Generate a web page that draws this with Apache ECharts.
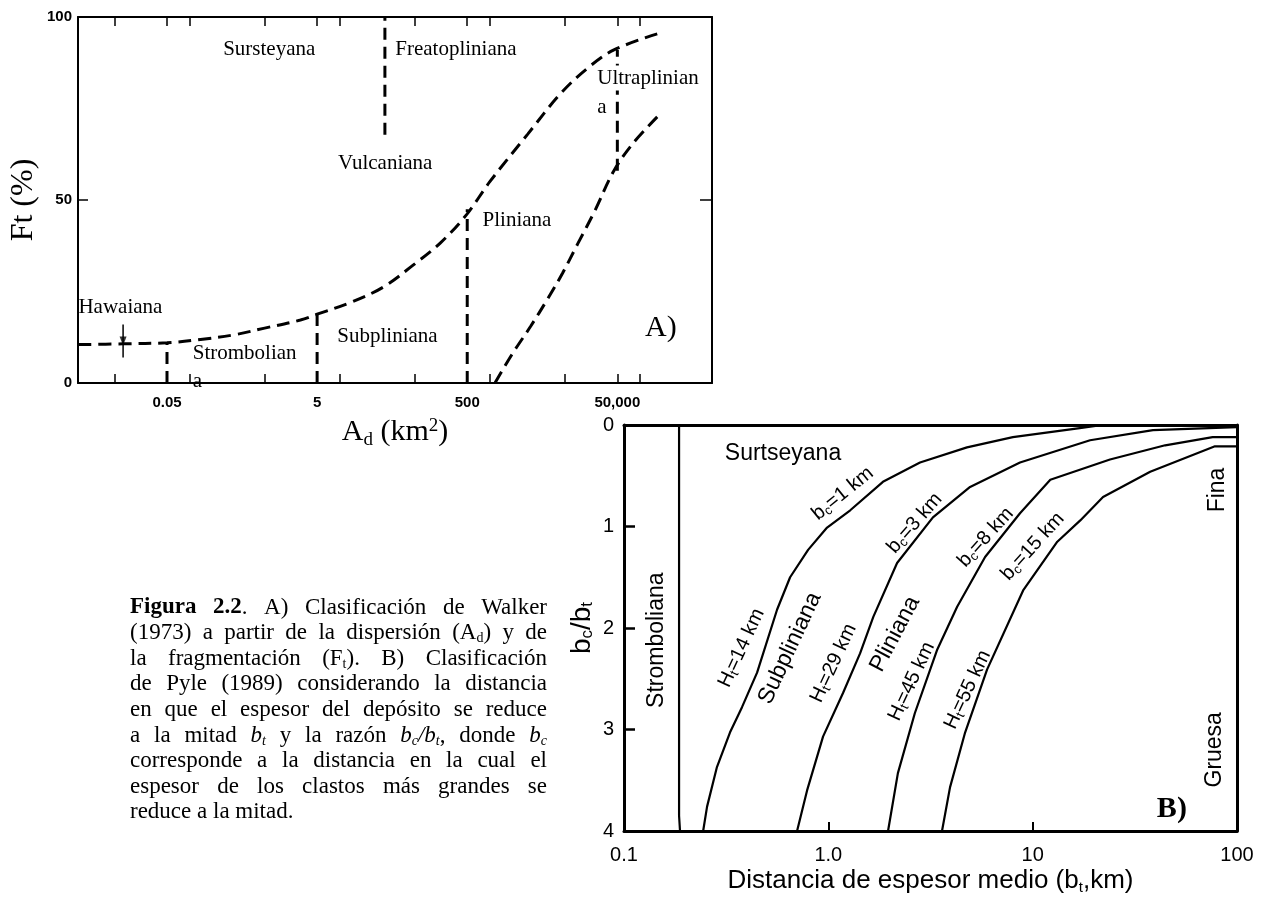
<!DOCTYPE html>
<html>
<head>
<meta charset="utf-8">
<script src="https://cdn.jsdelivr.net/npm/echarts@6/dist/echarts.min.js"></script>
<style>
  html, body { margin: 0; padding: 0; background: #fff; }
  #chart { width: 1268px; height: 898px; }
</style>
</head>
<body>
<div id="chart"></div>
<script>
const SERIF = '"Liberation Serif", "Times New Roman", serif';
const SANS = '"Liberation Sans", Arial, Helvetica, sans-serif';
const NARROW = '"Liberation Sans Narrow", "Arial Narrow", "Liberation Sans", sans-serif';

// ---------- Panel A: Walker (1973), dispersal A_d (km²) vs fragmentation F_t (%) ----------
const walkerTickValues = [0.01, 0.05, 0.1, 1, 5, 10, 100, 500, 1000, 10000, 50000, 100000];
const walkerLabelValues = [0.05, 5, 500, 50000];
const walkerLabelTexts = ['0.05', '5', '500', '50,000'];
const walkerFtTicks = [0, 50, 100];
const walkerUpperCurve = [
  [0.0033, 10.5], [0.013, 10.7], [0.05, 11], [0.14, 11.9], [0.4, 13.2], [1, 15],
  [3, 17.2], [5, 18.8], [14, 22], [38, 26.2], [95, 32.2], [220, 38.3], [490, 46],
  [1000, 55], [3200, 68], [8700, 79], [20000, 86], [45000, 91], [170000, 95.4]
];
const walkerLowerCurve = [
  [1170, 0], [2000, 8], [3500, 15.5], [5900, 23], [9300, 30], [14800, 38],
  [25000, 47], [45000, 58], [81000, 65.5], [170000, 72.7]
];
const walkerDividerX = [0.05, 5, 500, 50000, 40];
const walkerDividerFrom = [0, 0, 0, 58, 67.8];
const walkerDividerTo = [11, 18.8, 47.5, 91, 100];
const hawaiianMarkX = [0.013, 0.013];
const hawaiianMarkFt = [16, 7];
const walkerRegionNames = ['Sursteyana', 'Freatopliniana', 'Ultraplinian', 'a', 'Vulcaniana',
  'Pliniana', 'Hawaiana', 'Strombolian', 'a', 'Subpliniana'];
const walkerRegionAt = [[0.28, 91], [55, 91], [27000, 83.3], [27000, 75.4], [9.5, 60.1],
  [800, 44.5], [0.0033, 20.5], [0.11, 8.2], [0.11, 0.3], [9.3, 12.6]];
const walkerPanelTag = 'A)';
const walkerPanelTagAt = [117000, 15];

// ---------- Panel B: Pyle (1989), half-thickness distance b_t vs b_c/b_t ----------
const pyleTickValues = [1, 10];
const pyleLabelValues = [0.1, 1, 10, 100];
const pyleLabelTexts = ['0.1', '1.0', '10', '100'];
const pyleStrombolianLimit = [[0.186, 0], [0.186, 3.85], [0.188, 4]];
const pyleCurveBc1 = [
  [0.244, 4], [0.255, 3.76], [0.285, 3.37], [0.33, 3.03], [0.378, 2.78], [0.448, 2.44],
  [0.561, 1.82], [0.65, 1.5], [0.796, 1.23], [0.986, 1.01], [1.28, 0.84], [1.85, 0.56],
  [2.81, 0.37], [4.77, 0.22], [8.0, 0.12], [17, 0.03], [22, 0]
];
const pyleCurveBc3 = [
  [0.703, 4], [0.787, 3.6], [0.942, 3.07], [1.18, 2.64], [1.43, 2.25], [1.66, 1.89],
  [2.17, 1.36], [3.25, 0.91], [4.94, 0.61], [8.67, 0.37], [19.1, 0.15], [38.8, 0.05], [100, 0.02]
];
const pyleCurveBc8 = [
  [1.96, 4], [2.19, 3.43], [2.65, 2.84], [3.4, 2.22], [4.27, 1.79], [5.85, 1.3],
  [8.67, 0.87], [12.2, 0.54], [23.9, 0.34], [44.5, 0.2], [76, 0.12], [100, 0.12]
];
const pyleCurveBc15 = [
  [3.6, 4], [3.94, 3.57], [4.67, 3.03], [5.98, 2.41], [8.98, 1.63], [13.2, 1.15],
  [17.1, 0.94], [22.1, 0.71], [37.6, 0.46], [78, 0.21], [100, 0.21]
];
const pyleTexts = [
  '{v|Surtseyana}', '{v|Stromboliana}', '{v|Subpliniana}', '{v|Pliniana}', '{v|Fina}', '{v|Gruesa}',
  '{c|b}{cs|c}{c|=1 km}', '{c|b}{cs|c}{c|=3 km}', '{c|b}{cs|c}{c|=8 km}', '{c|b}{cs|c}{c|=15 km}',
  '{c|H}{cs|t}{c|=14 km}', '{c|H}{cs|t}{c|=29 km}', '{c|H}{cs|t}{c|=45 km}', '{c|H}{cs|t}{c|=55 km}',
  '{tag|B)}'
];
const pyleTextAt = [
  [0.60, 0.28], [0.145, 2.12], [0.649, 2.2], [2.12, 2.06], [80, 0.64], [78, 3.2],
  [1.18, 0.68], [2.66, 0.97], [5.91, 1.11], [10.05, 1.2],
  [0.378, 2.2], [1.066, 2.35], [2.57, 2.53], [4.83, 2.61],
  [48, 3.79]
];
const pyleTextAngle = [0, 90, 65, 62, 90, 90, 39, 49, 48, 48, 65, 65, 65, 65, 0];

// ---------- Caption ----------
const captionLines = [
  '{b|Figura} {b|2.2}{r|.} {r|A)} {r|Clasificación} {r|de} {r|Walker}',
  '{r|(1973)} {r|a} {r|partir} {r|de} {r|la} {r|dispersión} {r|(A}{rs|d}{r|)} {r|y} {r|de}',
  '{r|la} {r|fragmentación} {r|(F}{rs|t}{r|).} {r|B)} {r|Clasificación}',
  '{r|de} {r|Pyle} {r|(1989)} {r|considerando} {r|la} {r|distancia}',
  '{r|en} {r|que} {r|el} {r|espesor} {r|del} {r|depósito} {r|se} {r|reduce}',
  '{r|a} {r|la} {r|mitad} {i|b}{is|t} {r|y} {r|la} {r|razón} {i|b}{is|c}{i|/b}{is|t}{r|,} {r|donde} {i|b}{is|c}',
  '{r|corresponde} {r|a} {r|la} {r|distancia} {r|en} {r|la} {r|cual} {r|el}',
  '{r|espesor} {r|de} {r|los} {r|clastos} {r|más} {r|grandes} {r|se}',
  '{r|reduce} {r|a} {r|la} {r|mitad.}'
];

// ---------- helpers ----------
function labelFor(values, texts) {
  return function (v) {
    for (let i = 0; i < values.length; i++) {
      if (Math.abs(Math.log10(v) - Math.log10(values[i])) < 1e-6) return texts[i];
    }
    return '';
  };
}

const CAP = { x: 130, width: 417, top: 596, lineStep: 25.6, size: 23, sub: 14, subPad: 10 };
const capStyles = {
  r: { fontSize: CAP.size },
  b: { fontSize: CAP.size, fontWeight: 'bold' },
  i: { fontSize: CAP.size, fontStyle: 'italic' },
  rs: { fontSize: CAP.sub, padding: [CAP.subPad, 0, 0, 0] },
  is: { fontSize: CAP.sub, fontStyle: 'italic', padding: [CAP.subPad, 0, 0, 0] }
};
const capRich = {};
Object.keys(capStyles).forEach(function (k) {
  capRich[k] = Object.assign({ fontFamily: SERIF, fill: '#000', verticalAlign: 'top' }, capStyles[k]);
});
const measureCtx = document.createElement('canvas').getContext('2d');
function measureWord(word) {
  let w = 0;
  word.replace(/\{(\w+)\|([^}]*)\}/g, function (m, key, txt) {
    const s = capStyles[key];
    measureCtx.font = (s.fontStyle || 'normal') + ' ' + (s.fontWeight || 'normal') + ' ' + s.fontSize + 'px ' + SERIF;
    w += measureCtx.measureText(txt).width;
    return m;
  });
  return w;
}
function captionGraphics() {
  const out = [];
  measureCtx.font = 'normal normal ' + CAP.size + 'px ' + SERIF;
  const space = measureCtx.measureText(' ').width;
  captionLines.forEach(function (line, li) {
    const words = line.split(' ');
    const widths = words.map(measureWord);
    const total = widths.reduce(function (a, b) { return a + b; }, 0);
    const last = li === captionLines.length - 1;
    const gap = last ? space : (CAP.width - total) / (words.length - 1);
    let x = CAP.x;
    words.forEach(function (w, wi) {
      out.push({
        type: 'text', x: x, y: CAP.top + li * CAP.lineStep, silent: true,
        style: { text: w, rich: capRich, fill: '#000', align: 'left', verticalAlign: 'top',
                 fontFamily: SERIF, fontSize: CAP.size }
      });
      x += widths[wi] + gap;
    });
  });
  return out;
}

// ---------- chart ----------
const chart = echarts.init(document.getElementById('chart'), null, { renderer: 'canvas' });
const A_MIN = 0.00326, A_MAX = 912000;
const black = '#000';
const frameA = { show: true, onZero: false, lineStyle: { color: black, width: 2 } };
const frameB = { show: true, onZero: false, lineStyle: { color: black, width: 3 } };
const noLabel = { show: false };
const noSplit = { show: false };
const textCarrier = { symbolSize: 0.01, itemStyle: { color: black, opacity: 1 } };

const series = [];
// Panel A curves
[walkerUpperCurve, walkerLowerCurve].forEach(function (d) {
  series.push({
    type: 'line', xAxisIndex: 0, yAxisIndex: 0, data: d, showSymbol: false, symbol: 'none',
    smooth: 0.35, silent: true, lineStyle: { color: black, width: 3, type: [13, 7] }
  });
});
walkerDividerX.forEach(function (x, i) {
  series.push({
    type: 'line', xAxisIndex: 0, yAxisIndex: 0, showSymbol: false, symbol: 'none', silent: true,
    data: [[x, walkerDividerFrom[i]], [x, walkerDividerTo[i]]],
    lineStyle: { color: black, width: 3, type: [12, 7] }
  });
});
series.push({
  type: 'line', xAxisIndex: 0, yAxisIndex: 0, showSymbol: false, symbol: 'none', silent: true,
  data: hawaiianMarkX.map(function (x, i) { return [x, hawaiianMarkFt[i]]; }),
  lineStyle: { color: black, width: 1.5 }
});
series.push({
  type: 'scatter', xAxisIndex: 0, yAxisIndex: 0, silent: true,
  symbol: 'triangle', symbolRotate: 180, symbolSize: [7, 9],
  itemStyle: { color: black },
  data: [[hawaiianMarkX[0], (hawaiianMarkFt[0] + hawaiianMarkFt[1]) / 2]]
});
series.push(Object.assign({
  type: 'scatter', xAxisIndex: 0, yAxisIndex: 0, silent: true, z: 5,
  data: walkerRegionAt.map(function (p, i) {
    const item = { value: p, name: walkerRegionNames[i] };
    // the Ultraplinian caption sits on top of the dashed boundary
    if (i === 2) item.label = { backgroundColor: '#fff', padding: [2, 0, 2, 0] };
    return item;
  }),
  label: {
    show: true, position: 'right', distance: 0, formatter: '{b}',
    color: black, fontFamily: SERIF, fontSize: 21
  }
}, textCarrier));
series.push(Object.assign({
  type: 'scatter', xAxisIndex: 0, yAxisIndex: 0, silent: true,
  data: [{ value: walkerPanelTagAt, name: walkerPanelTag }],
  label: { show: true, position: 'right', distance: 0, formatter: '{b}', color: black, fontFamily: SERIF, fontSize: 30 }
}, textCarrier));

// Panel B curves
[pyleStrombolianLimit, pyleCurveBc1, pyleCurveBc3, pyleCurveBc8, pyleCurveBc15].forEach(function (d) {
  series.push({
    type: 'line', xAxisIndex: 2, yAxisIndex: 2, data: d, showSymbol: false, symbol: 'none',
    silent: true, lineStyle: { color: black, width: 2.2 }
  });
});
const pyleRich = {
  v: { color: black, fontFamily: SANS, fontSize: 23, verticalAlign: 'top' },
  c: { color: black, fontFamily: SANS, fontSize: 20, verticalAlign: 'top' },
  cs: { color: black, fontFamily: SANS, fontSize: 13, verticalAlign: 'top', padding: [8, 0, 0, 0] },
  tag: { color: black, fontFamily: SERIF, fontSize: 30, fontWeight: 'bold', verticalAlign: 'top' }
};
series.push(Object.assign({
  type: 'scatter', xAxisIndex: 2, yAxisIndex: 2, silent: true,
  data: pyleTextAt.map(function (p, i) {
    return { value: p, name: pyleTexts[i], label: { rotate: pyleTextAngle[i] } };
  }),
  label: { show: true, position: 'inside', formatter: '{b}', color: black, rich: pyleRich }
}, textCarrier));

const option = {
  animation: false,
  backgroundColor: '#fff',
  grid: [
    { left: 78, top: 17, width: 634, height: 366, containLabel: false, outerBoundsMode: 'none' },
    { left: 624, top: 425, width: 613, height: 406, containLabel: false, outerBoundsMode: 'none' }
  ],
  xAxis: [
    {
      gridIndex: 0, type: 'log', logBase: 10, min: A_MIN, max: A_MAX, position: 'bottom',
      axisLine: frameA, splitLine: noSplit,
      axisTick: { show: true, inside: true, length: 9, customValues: walkerTickValues, lineStyle: { color: black, width: 1.5 } },
      axisLabel: {
        show: true, customValues: walkerLabelValues, formatter: labelFor(walkerLabelValues, walkerLabelTexts),
        margin: 12, color: black, fontFamily: NARROW, fontWeight: 'bold', fontSize: 15
      },
      name: '{n|A}{s|d}{n| (km}{p|2}{n|)}', nameLocation: 'middle', nameGap: 34, nameMoveOverlap: false,
      nameTextStyle: {
        rich: {
          n: { color: black, fontFamily: SERIF, fontSize: 30, verticalAlign: 'top' },
          s: { color: black, fontFamily: SERIF, fontSize: 19, verticalAlign: 'top', padding: [14, 0, 0, 0] },
          p: { color: black, fontFamily: SERIF, fontSize: 19, verticalAlign: 'top' }
        }
      }
    },
    {
      gridIndex: 0, type: 'log', logBase: 10, min: A_MIN, max: A_MAX, position: 'top',
      axisLine: frameA, splitLine: noSplit, axisLabel: noLabel,
      axisTick: { show: true, inside: true, length: 9, customValues: walkerTickValues, lineStyle: { color: black, width: 1.5 } }
    },
    {
      gridIndex: 1, type: 'log', logBase: 10, min: 0.1, max: 100, position: 'bottom',
      axisLine: frameB, splitLine: noSplit,
      axisTick: { show: true, inside: true, length: 9, customValues: pyleTickValues, lineStyle: { color: black, width: 2 } },
      axisLabel: {
        show: true, customValues: pyleLabelValues, formatter: labelFor(pyleLabelValues, pyleLabelTexts),
        margin: 14, color: black, fontFamily: SANS, fontSize: 20
      },
      name: '{n|Distancia de espesor medio (b}{s|t}{n|,km)}', nameLocation: 'middle', nameGap: 37, nameMoveOverlap: false,
      nameTextStyle: {
        rich: {
          n: { color: black, fontFamily: SANS, fontSize: 26, verticalAlign: 'top' },
          s: { color: black, fontFamily: SANS, fontSize: 15, verticalAlign: 'top', padding: [12, 0, 0, 0] }
        }
      }
    },
    {
      gridIndex: 1, type: 'log', logBase: 10, min: 0.1, max: 100, position: 'top',
      axisLine: frameB, splitLine: noSplit, axisLabel: noLabel, axisTick: { show: false }
    }
  ],
  yAxis: [
    {
      gridIndex: 0, type: 'value', min: 0, max: 100, interval: 50, position: 'left',
      axisLine: frameA, splitLine: noSplit,
      axisTick: { show: true, inside: true, length: 10, customValues: walkerFtTicks, lineStyle: { color: black, width: 1.5 } },
      axisLabel: { show: true, margin: 6, color: black, fontFamily: NARROW, fontWeight: 'bold', fontSize: 15 },
      name: 'Ft (%)', nameLocation: 'middle', nameGap: 38, nameMoveOverlap: false,
      nameTextStyle: { color: black, fontFamily: SERIF, fontSize: 32 }
    },
    {
      gridIndex: 0, type: 'value', min: 0, max: 100, interval: 50, position: 'right',
      axisLine: frameA, splitLine: noSplit, axisLabel: noLabel,
      axisTick: { show: true, inside: true, length: 12, customValues: [50], lineStyle: { color: black, width: 1.5 } }
    },
    {
      gridIndex: 1, type: 'value', min: 0, max: 4, interval: 1, inverse: true, position: 'left',
      axisLine: frameB, splitLine: noSplit,
      axisTick: { show: true, inside: true, length: 11, lineStyle: { color: black, width: 2.5 } },
      axisLabel: { show: true, margin: 10, color: black, fontFamily: SANS, fontSize: 20 },
      name: '{n|b}{s|c}{n|/b}{s|t}', nameLocation: 'middle', nameGap: 28, nameMoveOverlap: false,
      nameTextStyle: {
        rich: {
          n: { color: black, fontFamily: SANS, fontSize: 28, verticalAlign: 'top' },
          s: { color: black, fontFamily: SANS, fontSize: 17, verticalAlign: 'top', padding: [11, 0, 0, 0] }
        }
      }
    },
    {
      gridIndex: 1, type: 'value', min: 0, max: 4, interval: 1, inverse: true, position: 'right',
      axisLine: frameB, splitLine: noSplit, axisLabel: noLabel, axisTick: { show: false }
    }
  ],
  series: series,
  graphic: captionGraphics()
};
chart.setOption(option);
</script>
</body>
</html>
